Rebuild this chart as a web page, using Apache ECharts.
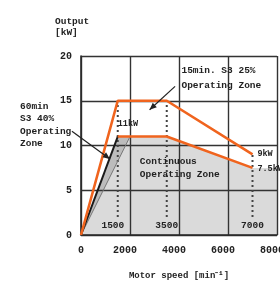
<!DOCTYPE html>
<html>
<head>
<meta charset="utf-8">
<script src="https://cdn.jsdelivr.net/npm/echarts@6.0.0/dist/echarts.min.js"></script>
<style>
  html, body { margin: 0; padding: 0; background: #fff; }
  #main { width: 280px; height: 281px; }
</style>
</head>
<body>
<div id="main"></div>
<script>
// values (speed in min-1, output in kW)
const s3_25 = [[0, 0], [1500, 15], [3500, 15], [7000, 9]]
const continuous = [[1500, 11], [3500, 11], [7000, 7.5]]
const s3_40Edge = [[0, 0], [1500, 11]]
const s3_40Outer = [[0, 0], [2000, 11]]
const s3_40Band = [[0, 0], [1500, 11], [2000, 11]]
const contZone = [[0, 0], [1500, 11], [3500, 11], [7000, 7.5], [8000, 7.5], [8000, 0]]
const baseSpeeds = [1500, 3500, 7000]
const baseTops = [15, 15, 9]
const speedTexts = ['1500', '3500', '7000']

const ORANGE = '#f0641e'
const FONT = 'Liberation Mono'

let myChart = echarts.init(document.getElementById('main'))

function zone(pts, color) {
  return {
    type: 'custom', silent: true, z: 1, clip: true,
    data: [[0, 0]],
    renderItem: function (params, api) {
      return {
        type: 'polygon',
        shape: { points: pts.map(p => api.coord(p)) },
        style: { fill: color }
      }
    }
  }
}

function line(data, color, width, type, z) {
  return {
    type: 'line', data: data, symbol: 'none', silent: true, z: z || 5,
    lineStyle: { color: color, width: width, type: type || 'solid' }
  }
}

const series = [
  zone(contZone, '#dadada'),
  zone(s3_40Band, '#bcbcbc'),
  line(s3_40Outer, '#777', 1),
  line(s3_40Edge, '#1a1a1a', 2),
  line(s3_25, ORANGE, 2.6),
  line(continuous, ORANGE, 2.6)
]
baseSpeeds.forEach((s, i) => {
  series.push(line([[s, 2], [s, baseTops[i]]], '#444', 2, [2, 3], 4))
})

const axisCommon = {
  z: 3,
  axisLine: { show: true, lineStyle: { color: '#2a2a2a', width: 1.6 } },
  axisTick: { show: false },
  splitLine: { show: true, lineStyle: { color: '#333', width: 1.4 } },
  axisLabel: { color: '#222', fontFamily: FONT, fontWeight: 'bold', fontSize: 10, formatter: v => String(v) }
}

const tickFont = { color: '#222', fontFamily: FONT, fontWeight: 'bold', fontSize: 10 }

myChart.setOption({
  animation: false,
  backgroundColor: '#fff',
  grid: { left: 81, right: 3, top: 56, bottom: 46, containLabel: false, outerBoundsMode: 'none' },
  xAxis: Object.assign({}, axisCommon, {
    type: 'value', min: 0, max: 8000, interval: 2000,
    axisLabel: Object.assign({}, axisCommon.axisLabel, {
      margin: 10,
      // labels in the original sit a little left of their grid lines
      formatter: v => v === 0 ? '{z|0}' : '{n|' + v + '}',
      rich: {
        z: Object.assign({}, tickFont),
        n: Object.assign({ padding: [0, 10, 0, 0] }, tickFont)
      }
    }),
    name: 'Motor speed [min⁻¹]', nameLocation: 'middle', nameGap: 36,
    nameTextStyle: { color: '#222', fontFamily: FONT, fontWeight: 'bold', fontSize: 9 }
  }),
  yAxis: Object.assign({}, axisCommon, {
    type: 'value', min: 0, max: 20, interval: 5,
    axisLabel: Object.assign({}, axisCommon.axisLabel, { margin: 9 })
  }),
  series: series
})

// annotations placed in data units
const px = p => myChart.convertToPixel({ gridIndex: 0 }, p)
const txt = (p, text, opt) => Object.assign({
  type: 'text', silent: true, z: 10,
  x: px(p)[0], y: px(p)[1],
  style: Object.assign({
    text: text, fill: '#222', font: 'bold 9.5px "' + FONT + '"',
    align: 'left', verticalAlign: 'middle'
  }, opt || {})
})
function arrow(from, to) {
  const a = px(from), b = px(to)
  const ang = Math.atan2(b[1] - a[1], b[0] - a[0])
  const L = 7, W = 3
  const head = [
    b,
    [b[0] - L * Math.cos(ang) + W * Math.sin(ang), b[1] - L * Math.sin(ang) - W * Math.cos(ang)],
    [b[0] - L * Math.cos(ang) - W * Math.sin(ang), b[1] - L * Math.sin(ang) + W * Math.cos(ang)]
  ]
  return [
    { type: 'line', silent: true, z: 10, shape: { x1: a[0], y1: a[1], x2: b[0], y2: b[1] }, style: { stroke: '#222', lineWidth: 1.2 } },
    { type: 'polygon', silent: true, z: 10, shape: { points: head }, style: { fill: '#222' } }
  ]
}

const labels = [
  { type: 'text', silent: true, x: 55, y: 16, style: { text: 'Output\n[kW]', fill: '#222', font: 'bold 9.5px "' + FONT + '"', lineHeight: 11 } },
  { type: 'text', silent: true, x: 20, y: 100, style: { text: '60min\nS3 40%\nOperating\nZone', fill: '#222', font: 'bold 9.5px "' + FONT + '"', lineHeight: 12.5 } },
  txt([4100, 17.5], '15min. S3 25%\nOperating Zone', { lineHeight: 15 }),
  txt([2400, 7.5], 'Continuous\nOperating Zone', { lineHeight: 13 }),
  txt([1500, 12.4], '11kW', { font: 'bold 8.5px "' + FONT + '"' }),
  txt([7200, 9.1], '9kW', { font: 'bold 8.5px "' + FONT + '"' }),
  txt([7200, 7.4], '7.5kW', { font: 'bold 8.5px "' + FONT + '"' })
]

baseSpeeds.forEach((s, i) => {
  labels.push(txt([s - (i === 0 ? 200 : 0), 1.0], speedTexts[i], { align: 'center' }))
})

myChart.setOption({
  graphic: labels
    .concat(arrow([-370, 11.6], [1180, 8.5]))
    .concat(arrow([3840, 16.6], [2800, 14.0]))
})
</script>
</body>
</html>
